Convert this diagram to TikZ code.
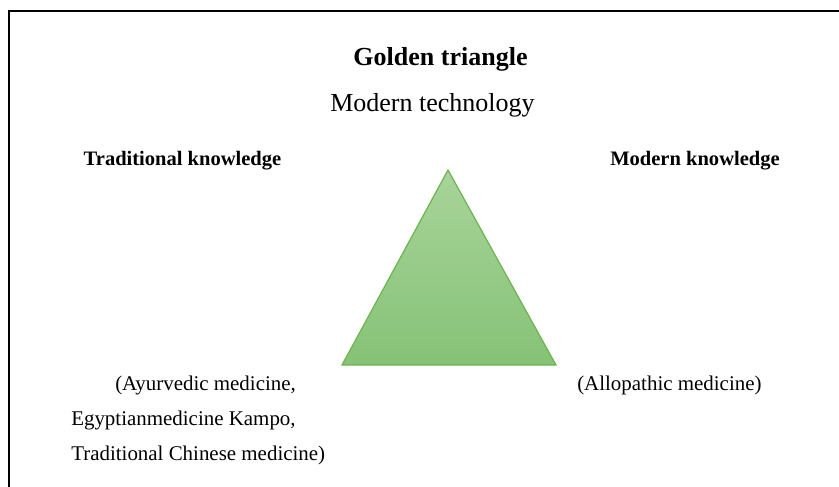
\documentclass[tikz,border=0pt]{standalone}
\usepackage{fontspec}
\setmainfont{Liberation Serif}
\usetikzlibrary{positioning}

\definecolor{triTop}{RGB}{168,212,154}
\definecolor{triBottom}{RGB}{134,194,118}
\definecolor{triEdge}{RGB}{108,180,80}

\tikzset{
	heading/.style={inner sep=0pt, font=\fontsize{19.5}{23}\selectfont\bfseries},
	subheading/.style={inner sep=0pt, font=\fontsize{19.5}{23}\selectfont},
	sidehead/.style={inner sep=0pt, font=\fontsize{15.4}{18}\selectfont\bfseries},
	sidetext/.style={inner sep=0pt, font=\fontsize{15.7}{19}\selectfont}
}

\begin{document}
\begin{tikzpicture}[x=0.75pt, y=-0.75pt]
			\useasboundingbox (0, 0) rectangle (839, 486);
			\draw [line width=1.5pt] (9, 490) -- (9, 10.5) -- (845, 10.5);

			\coordinate (apex) at (448, 170);
			\coordinate (baseL) at (342, 365);
			\coordinate (baseR) at (556, 365);
			\shade [top color=triTop, bottom color=triBottom, draw=triEdge, line width=0.9pt, line join=miter]
				(apex) -- (baseR) -- (baseL) -- cycle;

			\node (title) [heading, anchor=base] at (440.5, 65) {Golden triangle};
			\node (tech) [subheading, anchor=base] at (432.5, 111) {Modern technology};

			\node (trad) [sidehead, anchor=base] at (182.5, 165) {Traditional knowledge};
			\node (modern) [sidehead, anchor=base] at (695, 165) {Modern knowledge};

			\node (ayur) [sidetext, anchor=base west] at (115, 390) {(Ayurvedic medicine,};
			\node (egypt) [sidetext, anchor=base west] at (71, 425) {Egyptianmedicine Kampo,};
			\node (tcm) [sidetext, anchor=base west] at (71, 460) {Traditional Chinese medicine)};
			\node (allo) [sidetext, anchor=base west] at (577, 390) {(Allopathic medicine)};
		\end{tikzpicture}
\end{document}
